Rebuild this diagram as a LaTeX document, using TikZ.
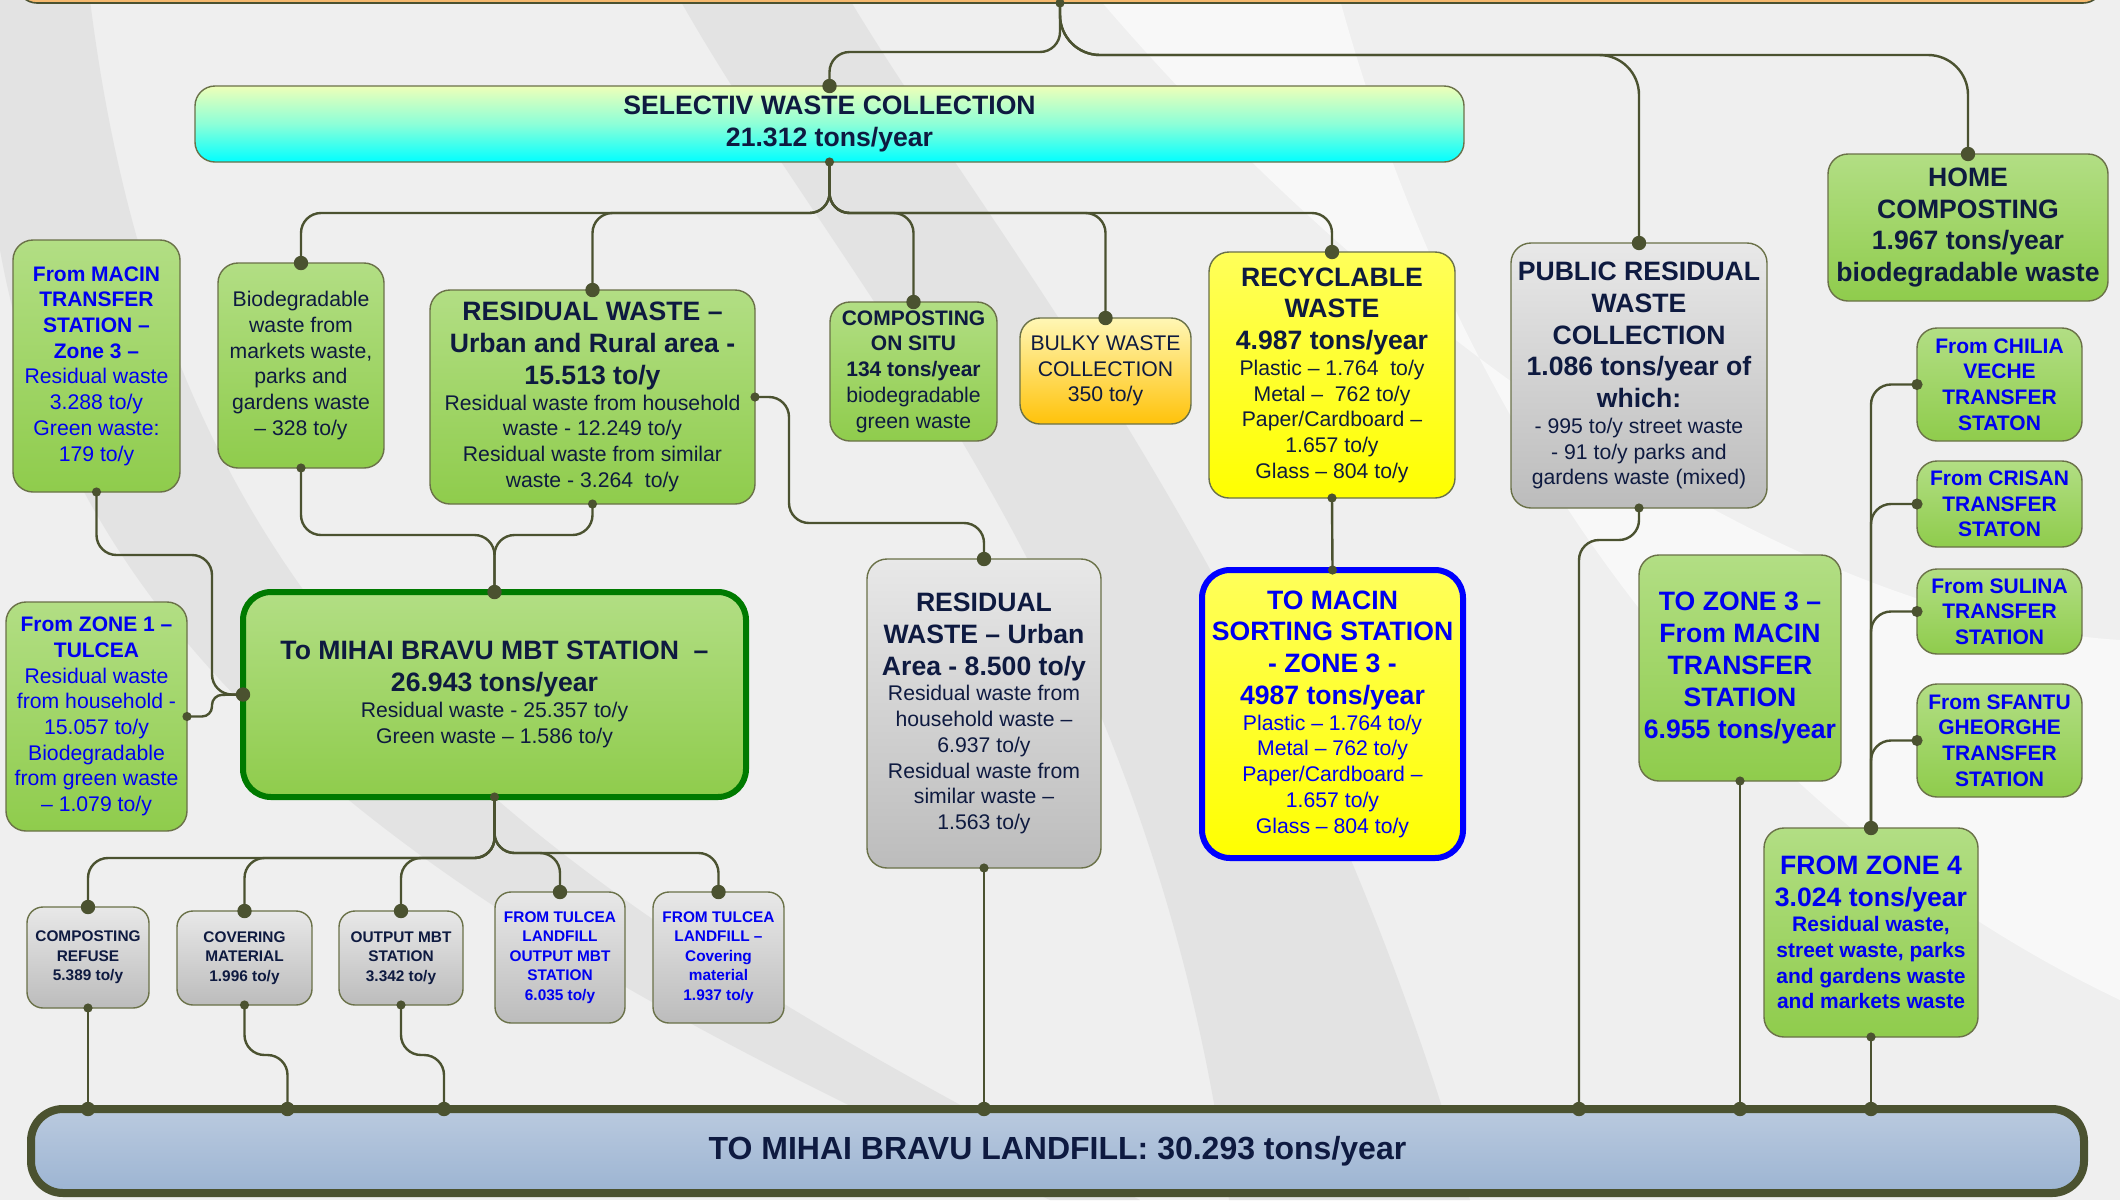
\documentclass[tikz,border=0pt]{standalone}
\usepackage{fontspec}
\setmainfont{Liberation Sans}
\usepackage{xcolor}
\setlength{\parindent}{0pt}
\setlength{\parskip}{0pt}

\definecolor{ink}{HTML}{0E1A40}
\definecolor{bluec}{HTML}{0000F0}
\definecolor{linkc}{HTML}{4B5230}
\definecolor{edgec}{HTML}{6A7148}
\definecolor{grnA}{HTML}{B2DE84}
\definecolor{grnB}{HTML}{8FCC4C}
\definecolor{gryA}{HTML}{E8E8E8}
\definecolor{gryB}{HTML}{BCBCBC}
\definecolor{ylwA}{HTML}{FFFF5A}
\definecolor{ylwB}{HTML}{FFFF00}
\definecolor{orgA}{HTML}{FFF7B5}
\definecolor{orgB}{HTML}{FFC20A}
\definecolor{cyA}{HTML}{EEFFB8}
\definecolor{cyM}{HTML}{8CFFD8}
\definecolor{cyB}{HTML}{00FFFF}
\definecolor{lfA}{HTML}{BACADF}
\definecolor{lfB}{HTML}{9CB4D2}
\definecolor{mbtc}{HTML}{007A00}
\definecolor{topc}{HTML}{F6B96E}
\definecolor{bgc}{HTML}{EFEFEF}
\definecolor{bgdark}{HTML}{E3E3E3}
\definecolor{bglight}{HTML}{F8F8F8}

\newcommand{\hdf}{\fontsize{13.3}{15.9}\selectfont\bfseries}
\newcommand{\bdf}{\fontsize{10.6}{12.85}\selectfont\mdseries}
\newcommand{\sbf}{\fontsize{10.5}{12.85}\selectfont\bfseries}
\newcommand{\tnf}{\fontsize{7.7}{9.75}\selectfont\bfseries}

\tikzset{sz/.style 2 args={minimum width=#1pt, minimum height=#2pt, text width=#1pt}}

\begin{document}
\begin{tikzpicture}[x=0.5pt, y=-0.5pt,
    box/.style={draw=edgec, line width=0.7pt, rounded corners=10pt,
        align=flush center, inner xsep=0pt, inner ysep=1.5pt, outer sep=0pt, text=ink},
    green box/.style={box, top color=grnA, bottom color=grnB},
    grey box/.style={box, top color=gryA, bottom color=gryB},
    small box/.style={grey box, rounded corners=8pt},
    link/.style={draw=linkc, line width=1.2pt, rounded corners=10pt}]
    \useasboundingbox (0,0) rectangle (2120,1200);

    % background swooshes
    \fill[bgc] (0,0) rectangle (2120,1200);
    \fill[bgdark] (680,0) .. controls (850,300) and (1150,600) .. (1229,1200)
        -- (1470,1200) .. controls (1300,600) and (1000,250) .. (850,0) -- cycle;
    \fill[bgdark] (0,250) .. controls (80,700) and (500,950) .. (1050,1200)
        -- (1140,1200) .. controls (520,880) and (170,640) .. (90,0) -- (0,0) -- cycle;
    \fill[bglight] (1100,0) .. controls (1400,350) and (1800,620) .. (2120,640)
        -- (2120,1000) .. controls (1700,800) and (1450,400) .. (1340,0) -- cycle;

    % top
    \node[draw=linkc, line width=0.8pt, fill=topc, rounded corners=10pt,
        minimum width=1043pt, minimum height=43pt, outer sep=0pt] (top) at (1060,-40) {};
    \node[box, top color=cyA, bottom color=cyB, middle color=cyM, sz={634.5}{38}] (sel) at (829.5,124)
        {\hdf SELECTIV WASTE COLLECTION\\21.312 tons/year\par};
    \node[grey box, sz={128}{132.5}] (pub) at (1639,375.5)
        {\hdf PUBLIC RESIDUAL\\WASTE\\COLLECTION\\1.086 tons/year of\\which:\par
         \bdf - 995 to/y street waste\\- 91 to/y parks and\\gardens waste (mixed)\par};
    \node[green box, sz={140}{73.5}] (home) at (1968,227.5)
        {\hdf HOME\\COMPOSTING\\1.967 tons/year\\biodegradable waste\par};

    % selective collection
    \node[green box, sz={83}{102.5}] (bio) at (301,365.5)
        {\bdf Biodegradable\\waste from\\markets waste,\\parks and\\gardens waste\\– 328 to/y\par};
    \node[green box, sz={162.5}{107}] (rwur) at (592.5,397)
        {\hdf RESIDUAL WASTE –\\Urban and Rural area -\\15.513 to/y\par
         \bdf Residual waste from household\\waste - 12.249 to/y\\Residual waste from similar\\waste - 3.264~ to/y\par};
    \node[green box, sz={83.5}{69.5}] (situ) at (913.5,371.5)
        {\sbf COMPOSTING\\ON SITU\\134 tons/year\par\bdf biodegradable\\green waste\par};
    \node[box, top color=orgA, bottom color=orgB, sz={85.5}{53}] (bulky) at (1105.5,371)
        {\bdf BULKY WASTE\\COLLECTION\\350 to/y\par};
    \node[box, top color=ylwA, bottom color=ylwB, sz={123}{123}] (recyc) at (1332,375)
        {\hdf RECYCLABLE\\WASTE\\4.987 tons/year\par
         \bdf Plastic – 1.764~ to/y\\Metal –~ 762 to/y\\Paper/Cardboard –\\1.657 to/y\\Glass – 804 to/y\par};

    % left inputs and MBT
    \node[green box, text=bluec, sz={83.5}{126}] (macin) at (96.5,366)
        {\sbf From MACIN\\TRANSFER\\STATION –\\Zone 3 –\par\bdf Residual waste\\3.288 to/y\\Green waste:\\179 to/y\par};
    \node[green box, text=bluec, sz={90.5}{114.5}] (zone1) at (96.5,716.5)
        {\sbf From ZONE 1 –\\TULCEA\par\bdf Residual waste\\from household -\\15.057 to/y\\Biodegradable\\from green waste\\– 1.079 to/y\par};
    \node[green box, draw=mbtc, line width=3pt, rounded corners=14pt, sz={251.5}{102.5}] (mbt) at (494.5,694.5)
        {\hdf To MIHAI BRAVU MBT STATION~ –\\26.943 tons/year\par
         \bdf Residual waste - 25.357 to/y\\Green waste – 1.586 to/y\par};
    \node[grey box, sz={117}{154.5}] (rwu) at (984,713.5)
        {\hdf RESIDUAL\\WASTE – Urban\\Area - 8.500 to/y\par
         \bdf Residual waste from\\household waste –\\6.937 to/y\\Residual waste from\\similar waste –\\1.563 to/y\par};
    \node[box, draw=blue, line width=3pt, rounded corners=14pt, top color=ylwA, bottom color=ylwB,
        text=bluec, sz={130.5}{144}] (sort) at (1332.5,714)
        {\hdf TO MACIN\\SORTING STATION\\- ZONE 3 -\\4987 tons/year\par
         \bdf Plastic – 1.764 to/y\\Metal – 762 to/y\\Paper/Cardboard –\\1.657 to/y\\Glass – 804 to/y\par};

    % right column
    \node[green box, text=bluec, sz={101}{113}] (zone3) at (1740,668)
        {\hdf TO ZONE 3 –\\From MACIN\\TRANSFER\\STATION\\6.955 tons/year\par};
    \node[green box, text=bluec, sz={82.5}{56.5}] (chilia) at (1999.5,384.5)
        {\sbf From CHILIA\\VECHE\\TRANSFER\\STATON\par};
    \node[green box, text=bluec, sz={82.5}{43}] (crisan) at (1999.5,504)
        {\sbf From CRISAN\\TRANSFER\\STATON\par};
    \node[green box, text=bluec, sz={82.5}{42.5}] (sulina) at (1999.5,611.5)
        {\sbf From SULINA\\TRANSFER\\STATION\par};
    \node[green box, text=bluec, sz={82.5}{56.5}] (sfantu) at (1999.5,740.5)
        {\sbf From SFANTU\\GHEORGHE\\TRANSFER\\STATION\par};
    \node[green box, text=bluec, sz={107}{104.5}] (zone4) at (1871,932.5)
        {\hdf FROM ZONE 4\\3.024 tons/year\par
         \sbf Residual waste,\\street waste, parks\\and gardens waste\\and markets waste\par};

    % MBT outputs
    \node[small box, sz={61}{50.5}] (refuse) at (88,957.5)
        {\tnf COMPOSTING\\REFUSE\\5.389 to/y\par};
    \node[small box, sz={67.5}{47}] (cover) at (244.5,958)
        {\tnf COVERING\\MATERIAL\\1.996 to/y\par};
    \node[small box, sz={62}{47}] (outmbt) at (401,958)
        {\tnf OUTPUT MBT\\STATION\\3.342 to/y\par};
    \node[small box, text=bluec, sz={65}{65.5}] (tulmbt) at (560,957.5)
        {\tnf FROM TULCEA\\LANDFILL\\OUTPUT MBT\\STATION\\6.035 to/y\par};
    \node[small box, text=bluec, sz={65.5}{65.5}] (tulcov) at (718.5,957.5)
        {\tnf FROM TULCEA\\LANDFILL –\\Covering\\material\\1.937 to/y\par};

    % landfill
    \node[draw=linkc, line width=4pt, rounded corners=16pt, top color=lfA, bottom color=lfB,
        outer sep=0pt, text=ink, minimum width=1026.5pt, minimum height=42pt] (lf) at (1057.5,1151)
        {\fontsize{16}{19}\selectfont\bfseries TO MIHAI BRAVU LANDFILL: 30.293 tons/year};

    % connectors
    \draw[link] (top.south) |- (sel.north |- 0,52) -- (sel.north);
    \draw[link, rounded corners=20pt] (top.south) |- (pub.north |- 0,55) -- (pub.north);
    \draw[link, rounded corners=20pt] (top.south) |- (home.north |- 0,55) -- (home.north);
    \foreach \n in {bio, rwur, situ, bulky, recyc}
        \draw[link] (sel.south) |- (\n.north |- 0,213) -- (\n.north);
    \draw[link] (bio.south) |- (mbt.north |- 0,535) -- (mbt.north);
    \draw[link] (rwur.south) |- (mbt.north |- 0,535) -- (mbt.north);
    \draw[link] (macin.south) |- (212,555) |- (mbt.west);
    \draw[link, rounded corners=5pt] (zone1.east) -| (212,695) -- (mbt.west);
    \draw[link] (rwur.east) -| (789,523) -| (rwu.north);
    \draw[link] (recyc.south) -- (sort.north);
    \foreach \n in {refuse, cover, outmbt}
        \draw[link] (mbt.south) |- (\n.north |- 0,858) -- (\n.north);
    \foreach \n in {tulmbt, tulcov}
        \draw[link] (mbt.south) |- (\n.north |- 0,853) -- (\n.north);
    \foreach \n in {chilia, crisan, sulina, sfantu}
        \draw[link] (\n.west) -| (zone4.north);

    % into the landfill
    \foreach \n in {refuse, rwu, zone3, zone4}
        \draw[link] (\n.south) -- (\n.south |- lf.north);
    \foreach \n in {cover, outmbt}
        \draw[link] (\n.south) |- ++(43,50) coordinate (\n-in) -- (\n-in |- lf.north);
    \draw[link] (pub.south) |- (1579,540) coordinate (pub-in) -- (pub-in |- lf.north);

    % dots
    \foreach \p in {sel.north, pub.north, home.north, bio.north, rwur.north, situ.north,
        bulky.north, recyc.north, mbt.north, mbt.west, rwu.north, zone4.north,
        refuse.north, cover.north, outmbt.north, tulmbt.north, tulcov.north,
        refuse.south |- lf.north, cover-in |- lf.north, outmbt-in |- lf.north,
        rwu.south |- lf.north, pub-in |- lf.north, zone3.south |- lf.north,
        zone4.south |- lf.north}
        \fill[linkc] (\p) circle[radius=3.6pt];
    \foreach \p in {top.south, sel.south, bio.south, rwur.south, rwur.east, macin.south,
        zone1.east, mbt.south, recyc.south, pub.south, rwu.south, zone3.south,
        zone4.south, refuse.south, cover.south, outmbt.south, sort.north}
        \fill[linkc] (\p) circle[radius=2.3pt];
    \foreach \p in {chilia.west, crisan.west, sulina.west, sfantu.west}
        \fill[linkc] (\p) circle[radius=2.8pt];
\end{tikzpicture}
\end{document}
